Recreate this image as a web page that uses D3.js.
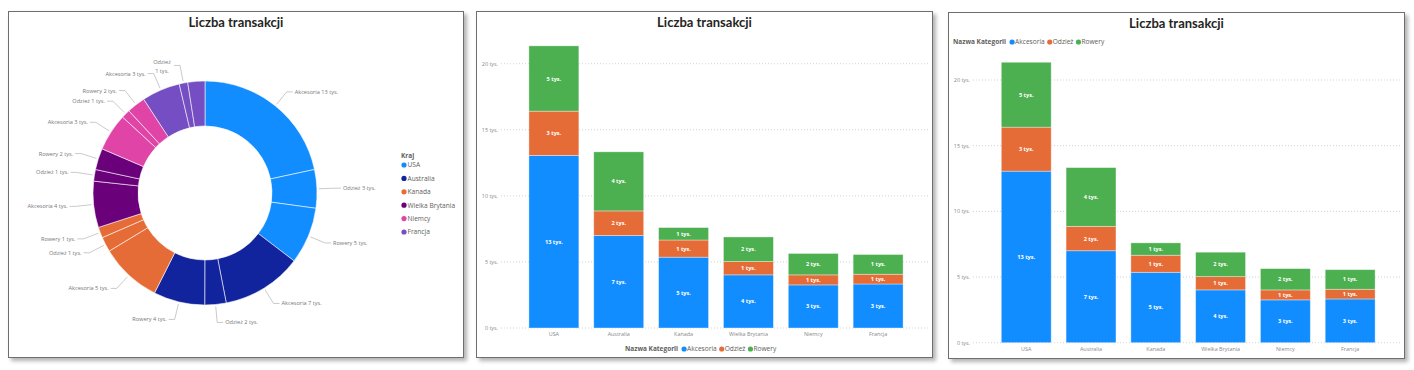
<!DOCTYPE html>
<html lang="pl">
  <head>
    <meta charset="UTF-8" />
    <title>Liczba transakcji</title>
    <style>
      body { margin: 0; background: #fff; width: 1414px; height: 370px; position: relative; overflow: hidden; }
      .panel {
        position: absolute;
        background: #fff;
        border: 1px solid #6e6e6e;
        box-shadow: 3px 3px 4px rgba(0, 0, 0, 0.3);
        box-sizing: border-box;
      }
      svg { display: block; font-family: "Open Sans", sans-serif; }
    </style>
  </head>
  <body>
    <div class="panel" id="p1" style="left:8px;top:11px;width:456px;height:347px"></div>
    <div class="panel" id="p2" style="left:476px;top:11px;width:457px;height:347px"></div>
    <div class="panel" id="p3" style="left:948px;top:12px;width:457px;height:347px"></div>

    <script src="https://d3js.org/d3.v7.min.js"></script>
    <script>
      // values in thousands
      const countries = ["USA", "Australia", "Kanada", "Wielka Brytania", "Niemcy", "Francja"];
      const categories = ["Akcesoria", "Odzież", "Rowery"];
      const akcesoria = [13.06, 7.0, 5.36, 4.02, 3.26, 3.33];
      const odziez = [3.35, 1.86, 1.3, 1.01, 0.76, 0.74];
      const rowery = [4.94, 4.47, 0.94, 1.86, 1.62, 1.49];
      const yTicks = [0, 5, 10, 15, 20];

      const countryColors = ["#118DFF", "#12239E", "#E66C37", "#6B007B", "#E044A7", "#744EC2"];
      const catColors = ["#118DFF", "#E66C37", "#4CAF50"];

      const fmt = (v) => Math.round(v) + " tys.";
      const series = [akcesoria, odziez, rowery];

      function addTitle(svg, w) {
        svg.append("text")
          .attr("x", w / 2)
          .attr("y", 14.5)
          .attr("text-anchor", "middle")
          .attr("font-family", "Lato, sans-serif")
          .attr("font-size", 13)
          .attr("font-weight", 700)
          .attr("fill", "#252423")
          .text("Liczba transakcji");
      }

      // ---------- donut ----------
      {
        const w = 454, h = 345;
        const svg = d3.select("#p1").append("svg").attr("width", w).attr("height", h);
        addTitle(svg, w);

        const slices = [];
        countries.forEach((c, i) => {
          categories.forEach((k, j) => {
            slices.push({ country: c, ci: i, cat: k, v: series[j][i] });
          });
        });

        const cx = 196, cy = 181, rOut = 112, rIn = 67;
        const g = svg.append("g").attr("transform", `translate(${cx},${cy})`);
        const pie = d3.pie().sort(null).value((d) => d.v);
        const arc = d3.arc().innerRadius(rIn).outerRadius(rOut);
        const arcs = pie(slices);

        g.selectAll("path")
          .data(arcs)
          .enter()
          .append("path")
          .attr("d", arc)
          .attr("fill", (d) => countryColors[d.data.ci])
          .attr("stroke", "#fff")
          .attr("stroke-opacity", 0.7)
          .attr("stroke-width", 0.8);

        const hidden = ["Francja|Rowery"];
        const wrapped = ["Francja|Odzież"];
        const rLab = 130;
        arcs.forEach((d) => {
          const key = d.data.country + "|" + d.data.cat;
          if (hidden.includes(key)) return;
          const a = (d.startAngle + d.endAngle) / 2;
          const sx = Math.sin(a), sy = -Math.cos(a);
          const p1 = [sx * (rOut + 2), sy * (rOut + 2)];
          const p2 = [sx * rLab, sy * rLab];
          const right = sx >= 0;
          const p3 = [p2[0] + (right ? 6 : -6), p2[1]];
          g.append("polyline")
            .attr("points", [p1, p2, p3].map((p) => p.join(",")).join(" "))
            .attr("fill", "none")
            .attr("stroke", "#b3b3b3")
            .attr("stroke-width", 0.7);
          const t = g.append("text")
            .attr("x", p3[0] + (right ? 2 : -2))
            .attr("y", p3[1] + 2)
            .attr("text-anchor", right ? "start" : "end")
            .attr("font-size", 5.6)
            .attr("fill", "#777");
          if (wrapped.includes(key)) {
            t.attr("y", p3[1] - 1).attr("text-anchor", "middle").attr("x", p3[0] - 12);
            t.append("tspan").text(d.data.cat);
            t.append("tspan").attr("x", p3[0] - 12).attr("dy", 9).text(fmt(d.data.v));
          } else {
            t.text(d.data.cat + " " + fmt(d.data.v));
          }
        });

        // legend
        const lg = svg.append("g").attr("transform", "translate(392,0)");
        lg.append("text").attr("x", 0).attr("y", 146).attr("font-size", 6.5)
          .attr("font-weight", 700).attr("fill", "#605e5c").text("Kraj");
        countries.forEach((c, i) => {
          const y = 153 + i * 13.4;
          lg.append("circle").attr("cx", 3).attr("cy", y).attr("r", 2.6).attr("fill", countryColors[i]);
          lg.append("text").attr("x", 6.5).attr("y", y + 2.3).attr("font-size", 6.6)
            .attr("fill", "#605e5c").text(c);
        });
      }

      // ---------- stacked bars ----------
      function drawBars(sel, o) {
        const w = 455, h = 345;
        const svg = d3.select(sel).append("svg").attr("width", w).attr("height", h);
        addTitle(svg, w);

        const x = d3.scaleBand().domain(countries).range(o.xRange).padding(0.23);
        const y = d3.scaleLinear().domain([0, 20]).range(o.yRange);

        // grid + y labels
        svg.append("g")
          .selectAll("line")
          .data(yTicks)
          .enter()
          .append("line")
          .attr("x1", 24).attr("x2", 452)
          .attr("y1", (d) => y(d)).attr("y2", (d) => y(d))
          .attr("stroke", "#c8c8c8")
          .attr("stroke-width", 0.8)
          .attr("stroke-dasharray", "1,2");
        svg.append("g")
          .selectAll("text")
          .data(yTicks)
          .enter()
          .append("text")
          .attr("x", 21)
          .attr("y", (d) => y(d) + 2)
          .attr("text-anchor", "end")
          .attr("font-size", 5.4)
          .attr("fill", "#888")
          .text((d) => d + " tys.");

        const table = countries.map((c, i) => {
          const r = { country: c };
          categories.forEach((k, j) => (r[k] = series[j][i]));
          return r;
        });
        const stacked = d3.stack().keys(categories)(table);

        const layers = svg.append("g")
          .selectAll("g")
          .data(stacked)
          .enter()
          .append("g")
          .attr("fill", (d, i) => catColors[i]);
        layers.selectAll("rect")
          .data((d) => d)
          .enter()
          .append("rect")
          .attr("x", (d) => x(d.data.country))
          .attr("width", x.bandwidth())
          .attr("y", (d) => y(d[1]))
          .attr("height", (d) => y(d[0]) - y(d[1]))
          .attr("stroke", "#fff")
          .attr("stroke-opacity", 0.45)
          .attr("stroke-width", 0.8);
        layers.selectAll("text")
          .data((d) => d)
          .enter()
          .append("text")
          .attr("x", (d) => x(d.data.country) + x.bandwidth() / 2)
          .attr("y", (d) => (y(d[0]) + y(d[1])) / 2 + 2)
          .attr("text-anchor", "middle")
          .attr("font-size", 5.6)
          .attr("font-weight", 700)
          .attr("fill", "#fff")
          .text((d) => fmt(d[1] - d[0]));

        // x labels
        svg.append("g")
          .selectAll("text")
          .data(countries)
          .enter()
          .append("text")
          .attr("x", (d) => x(d) + x.bandwidth() / 2)
          .attr("y", o.xLabelY)
          .attr("text-anchor", "middle")
          .attr("font-size", 5.4)
          .attr("fill", "#888")
          .text((d) => d);

        // legend
        const lg = svg.append("g").attr("transform", `translate(${o.legend[0]},${o.legend[1]})`);
        const title = lg.append("text").attr("y", 2.3).attr("font-size", 6.5)
          .attr("font-weight", 700).attr("fill", "#605e5c").text("Nazwa Kategorii");
        let lx = title.node().getComputedTextLength() + 6;
        categories.forEach((k, i) => {
          lg.append("circle").attr("cx", lx).attr("cy", 0).attr("r", 2.6).attr("fill", catColors[i]);
          const t = lg.append("text").attr("x", lx + 3).attr("y", 2.3).attr("font-size", 6.6)
            .attr("fill", "#605e5c").text(k);
          lx += t.node().getComputedTextLength() + 8;
        });
      }

      drawBars("#p2", { xRange: [37, 441], yRange: [316, 51.7], xLabelY: 323.5, legend: [148, 337] });
      drawBars("#p3", { xRange: [37.4, 441], yRange: [329.7, 67], xLabelY: 338, legend: [4, 29] });
    </script>
  </body>
</html>
